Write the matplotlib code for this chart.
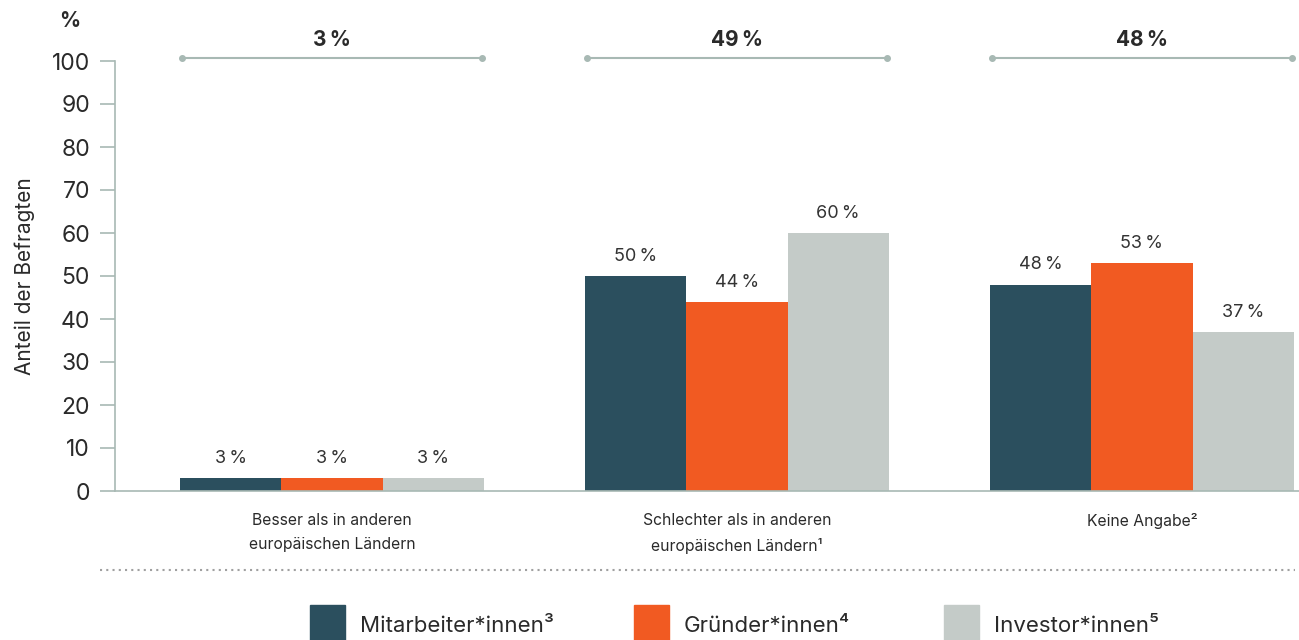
import matplotlib.pyplot as plt
from matplotlib.patches import Rectangle
import numpy as np

plt.rcParams['font.family'] = ['Inter', 'DejaVu Sans']

# Daten
kategorien = ['Besser als in anderen\neuropäischen Ländern',
              'Schlechter als in anderen\neuropäischen Ländern¹',
              'Keine Angabe²']
gesamt = [3, 49, 48]
mitarbeiter = [3, 50, 48]
gruender = [3, 44, 53]
investoren = [3, 60, 37]
serien = ['Mitarbeiter*innen³', 'Gründer*innen⁴', 'Investor*innen⁵']
farben = ['#2b4f5e', '#f15a22', '#c4cbc8']
y_ticks = [0, 10, 20, 30, 40, 50, 60, 70, 80, 90, 100]

text_col = '#2a2a2a'
line_col = '#a8b9b4'

fig = plt.figure(figsize=(12.99, 6.4), dpi=100)
ax = fig.add_axes([115 / 1299, 1 - 491 / 640, 1184 / 1299, 430 / 640])

x = np.arange(len(kategorien))
w = 0.25
for i, (werte, farbe) in enumerate(zip([mitarbeiter, gruender, investoren], farben)):
    pos = x + (i - 1) * w
    ax.bar(pos, werte, width=w, color=farbe, linewidth=0)
    for p, v in zip(pos, werte):
        ax.text(p, v + 2.6, f'{v}\u2009%', ha='center', va='bottom', fontsize=13,
                color='#333333')

ax.set_xlim(-0.536, 2.388)
ax.set_ylim(0, 100)
ax.set_yticks(y_ticks)
ax.set_yticklabels([str(t) for t in y_ticks], fontsize=16.5, color=text_col)
ax.set_xticks(x)
ax.set_xticklabels(kategorien, fontsize=11.3, color=text_col, linespacing=1.75)
ax.tick_params(axis='x', length=0, pad=16)
ax.tick_params(axis='y', length=11, width=1.2, color=line_col, pad=7)
for s in ['top', 'right']:
    ax.spines[s].set_visible(False)
ax.spines['left'].set_color(line_col)
ax.spines['left'].set_linewidth(1.2)
ax.spines['bottom'].set_color(line_col)
ax.spines['bottom'].set_linewidth(1.2)
ax.set_ylabel('Anteil der Befragten', fontsize=15, color=text_col, labelpad=12)

# Klammern mit Gesamtwerten
for xi, g in zip(x, gesamt):
    ax.plot([xi - 0.37, xi + 0.37], [100.7, 100.7], color=line_col, lw=1.5,
            marker='o', markersize=4, clip_on=False)
    ax.text(xi, 102.6, f'{g}\u2009%', ha='center', va='bottom', fontsize=15,
            fontweight='bold', color=text_col)

fig.text(70 / 1299, 1 - 21 / 640, '%', ha='center', va='center', fontsize=15,
         fontweight='bold', color=text_col)

# gepunktete Trennlinie
fig.add_artist(plt.Line2D([100 / 1299, 1295 / 1299], [1 - 570 / 640] * 2,
                          color='#a0a0a0', lw=1.5, linestyle=(0, (1, 2))))

# Legende
leg_x = [310, 634, 944]
for lx, name, farbe in zip(leg_x, serien, farben):
    fig.add_artist(Rectangle((lx / 1299, 0), 35 / 1299, 35 / 640,
                             transform=fig.transFigure, color=farbe))
    fig.text((lx + 50) / 1299, 1 - 626 / 640, name, ha='left', va='center',
             fontsize=16, color=text_col)

fig.savefig('out.png', dpi=100)
